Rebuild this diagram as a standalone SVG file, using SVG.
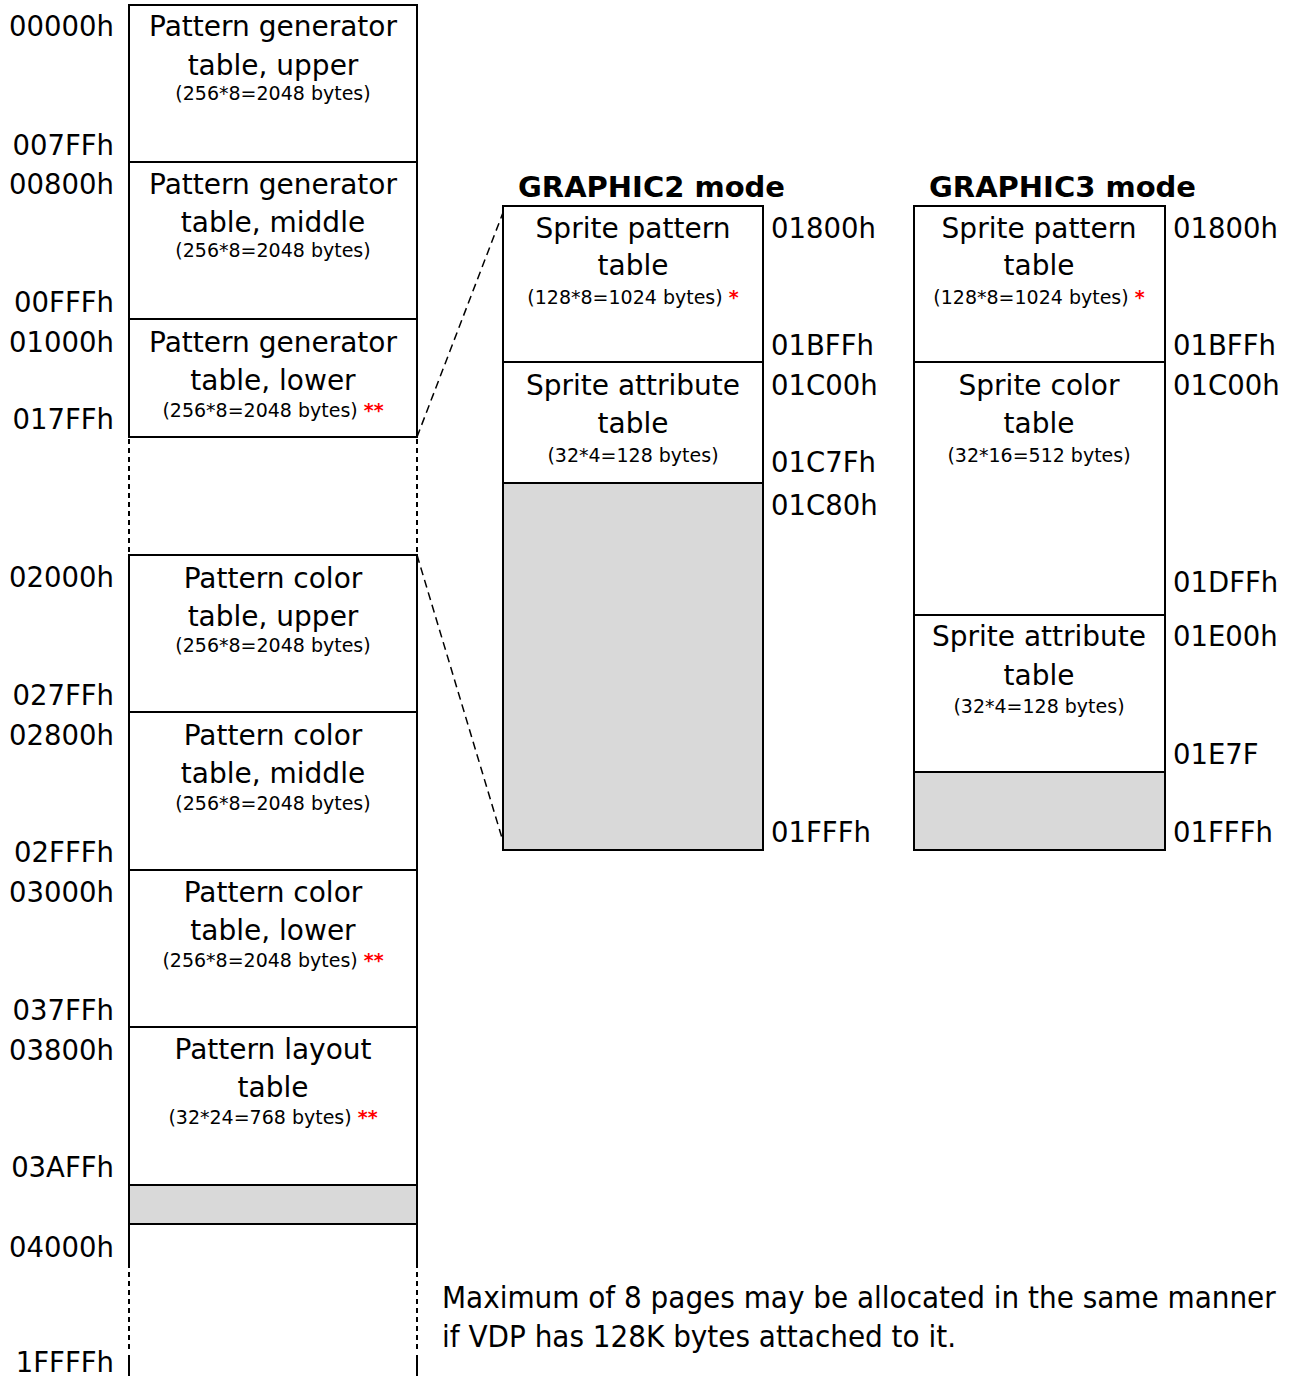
<svg xmlns="http://www.w3.org/2000/svg" width="1295" height="1376" viewBox="0 0 1295 1376">
<style>
text{font-family:"DejaVu Sans","Verdana",sans-serif;fill:#000}
.t{font-size:28px;text-anchor:middle}
.s{font-size:19px;text-anchor:middle}
.a{font-size:27.5px}
.al{font-size:27.5px;text-anchor:end}
.h{font-size:29px;font-weight:bold}
.r{fill:#ff0000;font-weight:bold}
.box{fill:#fff;stroke:#000;stroke-width:2}
.gray{fill:#d9d9d9;stroke:#000;stroke-width:2}
.sl{stroke:#000;stroke-width:2;fill:none}
.dot{stroke:#000;stroke-width:2;stroke-dasharray:5 4;fill:none}
.dash{stroke:#000;stroke-width:1.5;stroke-dasharray:8 5;fill:none}
.note{font-family:"DejaVu Sans Condensed","DejaVu Sans",sans-serif;font-stretch:condensed;font-size:31px}
</style>
<rect width="1295" height="1376" fill="#fff"/>

<g id="connectors">
<line class="dash" x1="417" y1="437" x2="504" y2="210"/>
<line class="dash" x1="417" y1="555" x2="505" y2="848"/>
</g>

<!-- Left memory map -->
<g id="pg-upper">
<rect class="box" x="129" y="5" width="288" height="157"/>
<text class="t" x="273" y="36">Pattern generator</text>
<text class="t" x="273" y="75">table, upper</text>
<text class="s" x="273" y="100">(256*8=2048 bytes)</text>
</g>
<g id="pg-middle">
<rect class="box" x="129" y="162" width="288" height="157"/>
<text class="t" x="273" y="194">Pattern generator</text>
<text class="t" x="273" y="232">table, middle</text>
<text class="s" x="273" y="257">(256*8=2048 bytes)</text>
</g>
<g id="pg-lower">
<rect class="box" x="129" y="319" width="288" height="118"/>
<text class="t" x="273" y="352">Pattern generator</text>
<text class="t" x="273" y="390">table, lower</text>
<text class="s" x="273" y="417">(256*8=2048 bytes) <tspan class="r">**</tspan></text>
</g>
<g id="gap1">
<line class="dot" x1="129" y1="439" x2="129" y2="554"/>
<line class="dot" x1="417" y1="439" x2="417" y2="554"/>
</g>
<g id="pc-upper">
<rect class="box" x="129" y="555" width="288" height="157"/>
<text class="t" x="273" y="588">Pattern color</text>
<text class="t" x="273" y="626">table, upper</text>
<text class="s" x="273" y="652">(256*8=2048 bytes)</text>
</g>
<g id="pc-middle">
<rect class="box" x="129" y="712" width="288" height="158"/>
<text class="t" x="273" y="745">Pattern color</text>
<text class="t" x="273" y="783">table, middle</text>
<text class="s" x="273" y="810">(256*8=2048 bytes)</text>
</g>
<g id="pc-lower">
<rect class="box" x="129" y="870" width="288" height="157"/>
<text class="t" x="273" y="902">Pattern color</text>
<text class="t" x="273" y="940">table, lower</text>
<text class="s" x="273" y="967">(256*8=2048 bytes) <tspan class="r">**</tspan></text>
</g>
<g id="pl">
<rect class="box" x="129" y="1027" width="288" height="158"/>
<text class="t" x="273" y="1059">Pattern layout</text>
<text class="t" x="273" y="1097">table</text>
<text class="s" x="273" y="1124">(32*24=768 bytes) <tspan class="r">**</tspan></text>
</g>
<g id="unused-left">
<rect class="gray" x="129" y="1185" width="288" height="39"/>
</g>
<g id="rest">
<line class="sl" x1="129" y1="1224" x2="129" y2="1268"/>
<line class="sl" x1="417" y1="1224" x2="417" y2="1268"/>
<line class="dot" x1="129" y1="1272" x2="129" y2="1352"/>
<line class="dot" x1="417" y1="1272" x2="417" y2="1352"/>
<line class="sl" x1="129" y1="1355" x2="129" y2="1376"/>
<line class="sl" x1="417" y1="1355" x2="417" y2="1376"/>
</g>

<g id="left-addresses">
<text class="al" x="114" y="36">00000h</text>
<text class="al" x="114" y="155">007FFh</text>
<text class="al" x="114" y="194">00800h</text>
<text class="al" x="114" y="312">00FFFh</text>
<text class="al" x="114" y="352">01000h</text>
<text class="al" x="114" y="429">017FFh</text>
<text class="al" x="114" y="587">02000h</text>
<text class="al" x="114" y="705">027FFh</text>
<text class="al" x="114" y="745">02800h</text>
<text class="al" x="114" y="862">02FFFh</text>
<text class="al" x="114" y="902">03000h</text>
<text class="al" x="114" y="1020">037FFh</text>
<text class="al" x="114" y="1060">03800h</text>
<text class="al" x="114" y="1177">03AFFh</text>
<text class="al" x="114" y="1257">04000h</text>
<text class="al" x="114" y="1372">1FFFFh</text>
</g>

<!-- GRAPHIC2 -->
<g id="g2">
<text class="h" x="518" y="197">GRAPHIC2 mode</text>
<g id="g2-spt">
<rect class="box" x="503" y="206" width="260" height="156"/>
<text class="t" x="633" y="238">Sprite pattern</text>
<text class="t" x="633" y="275">table</text>
<text class="s" x="633" y="304">(128*8=1024 bytes) <tspan class="r">*</tspan></text>
</g>
<g id="g2-sat">
<rect class="box" x="503" y="362" width="260" height="121"/>
<text class="t" x="633" y="395">Sprite attribute</text>
<text class="t" x="633" y="433">table</text>
<text class="s" x="633" y="462">(32*4=128 bytes)</text>
</g>
<g id="g2-free">
<rect class="gray" x="503" y="483" width="260" height="367"/>
</g>
<text class="a" x="771" y="238">01800h</text>
<text class="a" x="771" y="355">01BFFh</text>
<text class="a" x="771" y="395">01C00h</text>
<text class="a" x="771" y="472">01C7Fh</text>
<text class="a" x="771" y="515">01C80h</text>
<text class="a" x="771" y="842">01FFFh</text>
</g>

<!-- GRAPHIC3 -->
<g id="g3">
<text class="h" x="929" y="197">GRAPHIC3 mode</text>
<g id="g3-spt">
<rect class="box" x="914" y="206" width="251" height="156"/>
<text class="t" x="1039" y="238">Sprite pattern</text>
<text class="t" x="1039" y="275">table</text>
<text class="s" x="1039" y="304">(128*8=1024 bytes) <tspan class="r">*</tspan></text>
</g>
<g id="g3-sct">
<rect class="box" x="914" y="362" width="251" height="253"/>
<text class="t" x="1039" y="395">Sprite color</text>
<text class="t" x="1039" y="433">table</text>
<text class="s" x="1039" y="462">(32*16=512 bytes)</text>
</g>
<g id="g3-sat">
<rect class="box" x="914" y="615" width="251" height="157"/>
<text class="t" x="1039" y="646">Sprite attribute</text>
<text class="t" x="1039" y="685">table</text>
<text class="s" x="1039" y="713">(32*4=128 bytes)</text>
</g>
<g id="g3-free">
<rect class="gray" x="914" y="772" width="251" height="78"/>
</g>
<text class="a" x="1173" y="238">01800h</text>
<text class="a" x="1173" y="355">01BFFh</text>
<text class="a" x="1173" y="395">01C00h</text>
<text class="a" x="1173" y="592">01DFFh</text>
<text class="a" x="1173" y="646">01E00h</text>
<text class="a" x="1173" y="764">01E7F</text>
<text class="a" x="1173" y="842">01FFFh</text>
</g>

<g id="note">
<text class="note" x="442" y="1308">Maximum of 8 pages may be allocated in the same manner</text>
<text class="note" x="442" y="1347">if VDP has 128K bytes attached to it.</text>
</g>
</svg>
